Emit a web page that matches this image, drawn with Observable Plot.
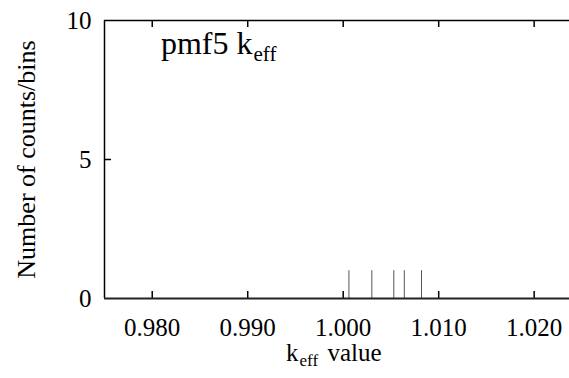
<!DOCTYPE html>
<html>
<head>
<meta charset="utf-8">
<script src="https://cdn.jsdelivr.net/npm/d3@7"></script>
<script src="https://cdn.jsdelivr.net/npm/@observablehq/plot@0.6"></script>
</head>
<body style="margin:0">
<div id="chart"></div>
<script>
// keff sample values (each bin holds one count)
const keffValues = [1.0006, 1.0030, 1.0053, 1.0064, 1.0082];
const counts = [1, 1, 1, 1, 1];
const xTicks = [0.980, 0.990, 1.000, 1.010, 1.020];
const yTicks = [0, 5, 10];
const titleMain = ["pmf5 k"];
const titleSub = ["eff"];
const xLabelMain = ["k"];
const xLabelSub = ["eff"];
const xLabelRest = ["value"];
const yLabelText = ["Number of counts/bins"];

const bars = keffValues.map((k, i) => ({k, n: counts[i]}));
const FONT = "Liberation Serif";

const W = 569, H = 378;
const mL = 104, mR = 0, mT = 20, mB = 80;
const frameH = H - mT - mB;
const frameW = W - mL - mR;
const xMin = 0.975, xMax = 1.0237;
const tickLenY = 7 * 10 / frameH;
const tickLenX = 7 * (xMax - xMin) / frameW;

const plot = Plot.plot({
  width: W,
  height: H,
  marginLeft: mL,
  marginRight: mR,
  marginTop: mT,
  marginBottom: mB,
  style: {fontFamily: FONT, fontSize: "25px"},
  x: {domain: [xMin, xMax], label: null},
  y: {domain: [0, 10], label: null},
  marks: [
    Plot.ruleX(bars, {x: "k", y1: 0, y2: "n", stroke: "#555", strokeWidth: 1}),
    Plot.ruleX(xTicks, {x: d => d, y1: () => 0, y2: () => tickLenY, stroke: "#000", strokeWidth: 1.5}),
    Plot.ruleX(xTicks, {x: d => d, y1: () => 10 - tickLenY, y2: () => 10, stroke: "#000", strokeWidth: 1.5}),
    Plot.ruleY([5], {y: d => d, x1: () => xMin, x2: () => xMin + tickLenX, stroke: "#000", strokeWidth: 1.5}),
    Plot.ruleX([xMin], {stroke: "#000", strokeWidth: 1.5}),
    Plot.ruleY([10], {stroke: "#000", strokeWidth: 1.5}),
    Plot.ruleY([0], {stroke: "#222", strokeWidth: 2}),
    Plot.axisX(xTicks, {tickSize: 0, tickPadding: 20, tickFormat: d3.format(".3f"), fontSize: 25, fontFamily: FONT}),
    Plot.axisY(yTicks, {tickSize: 0, tickPadding: 13, fontSize: 25, fontFamily: FONT}),
    // title "pmf5 k" + subscript "eff"
    Plot.text(titleMain, {text: d => d, frameAnchor: "top-left", dx: 148, dy: 33, textAnchor: "end", lineAnchor: "bottom", fontSize: 32, fontFamily: FONT}),
    Plot.text(titleSub, {text: d => d, frameAnchor: "top-left", dx: 149, dy: 40, textAnchor: "start", lineAnchor: "bottom", fontSize: 21, fontFamily: FONT}),
    // x label "k" + subscript "eff" + "value"
    Plot.text(xLabelMain, {text: d => d, frameAnchor: "bottom-left", dx: 298 - mL, dy: 62, textAnchor: "end", lineAnchor: "bottom", fontSize: 25, fontFamily: FONT}),
    Plot.text(xLabelSub, {text: d => d, frameAnchor: "bottom-left", dx: 298 - mL + 1, dy: 67, textAnchor: "start", lineAnchor: "bottom", fontSize: 17, fontFamily: FONT}),
    Plot.text(xLabelRest, {text: d => d, frameAnchor: "bottom-left", dx: 327 - mL, dy: 62, textAnchor: "start", lineAnchor: "bottom", fontSize: 25, fontFamily: FONT}),
    // y label
    Plot.text(yLabelText, {text: d => d, frameAnchor: "left", dx: 34 - mL, rotate: -90, textAnchor: "middle", lineAnchor: "bottom", fontSize: 26, fontFamily: FONT})
  ]
});
document.getElementById("chart").appendChild(plot);
</script>
</body>
</html>
